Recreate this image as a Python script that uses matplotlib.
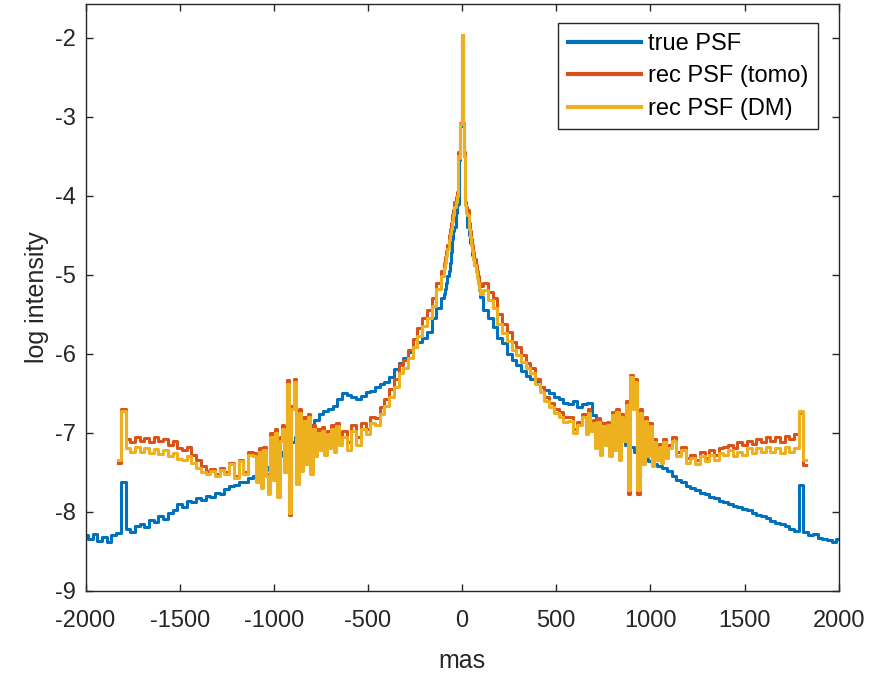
import numpy as np
import matplotlib
matplotlib.use('Agg')
from matplotlib import pyplot as plt

plt.rcParams['font.family'] = ['Liberation Sans', 'DejaVu Sans']
plt.rcParams['axes.unicode_minus'] = False

# x grids (mas): coarse wings, fine core and fine noisy bands around +-900 mas
x_core = np.arange(-100, 100.1, 6.25)
x_true = np.concatenate([np.arange(-2000, -124, 25), x_core, np.arange(125, 2001, 25)])
x_rec = np.concatenate([np.arange(-1825, -1124, 25), np.arange(-1100, -649, 12.5),
                        np.arange(-625, -124, 25), x_core,
                        np.arange(125, 626, 25), np.arange(650, 1101, 12.5),
                        np.arange(1125, 1826, 25)])

true_left = [-8.30, -8.35, -8.28, -8.37, -8.32, -8.38, -8.30, -8.27, -7.62, -8.22,
             -8.26, -8.18, -8.15, -8.19, -8.10, -8.13, -8.06, -8.09, -8.02, -7.98,
             -7.90, -7.94, -7.86, -7.88, -7.83, -7.85, -7.80, -7.82, -7.76, -7.77,
             -7.71, -7.68, -7.66, -7.62, -7.63, -7.58, -7.55, -7.52, -7.47, -7.43,
             -7.38, -7.30, -7.25, -7.18, -7.12, -7.06, -7.00, -6.95, -6.90, -6.84,
             -6.76, -6.72, -6.70, -6.66, -6.58, -6.50, -6.52, -6.55, -6.58, -6.53,
             -6.49, -6.47, -6.42, -6.38, -6.36, -6.30, -6.20, -6.12, -6.05, -5.98,
             -5.92, -5.85, -5.80, -5.73, -5.55, -5.42]
true_core = [-5.30, -5.25, -5.18, -5.10, -5.02, -4.95, -4.85, -4.72, -4.55, -4.45,
             -4.40, -4.22, -4.12, -4.10, -3.55, -3.12, -1.98, -3.12, -3.50, -4.10,
             -4.20, -4.40, -4.50, -4.60, -4.62, -4.75, -4.80, -4.88, -4.95, -5.00,
             -5.10, -5.20, -5.28]
true_right = [-5.45, -5.55, -5.66, -5.80, -5.86, -6.00, -6.08, -6.15, -6.22, -6.28,
              -6.32, -6.36, -6.42, -6.46, -6.50, -6.55, -6.58, -6.62, -6.64, -6.60,
              -6.68, -6.64, -6.62, -6.78, -6.86, -6.88, -6.94, -6.97, -7.04, -7.08,
              -7.15, -7.18, -7.24, -7.28, -7.33, -7.36, -7.40, -7.42, -7.45, -7.48,
              -7.55, -7.60, -7.63, -7.67, -7.70, -7.73, -7.76, -7.78, -7.82, -7.83,
              -7.86, -7.88, -7.90, -7.93, -7.94, -7.96, -7.98, -8.02, -8.04, -8.05,
              -8.08, -8.12, -8.14, -8.16, -8.18, -8.22, -8.24, -7.66, -8.26, -8.30,
              -8.28, -8.33, -8.34, -8.36, -8.38, -8.35]

tomo_left = [-7.38, -6.70, -7.08, -7.12, -7.05, -7.10, -7.07, -7.12, -7.06, -7.11,
             -7.08, -7.15, -7.10, -7.20, -7.22, -7.18, -7.28, -7.35, -7.42, -7.48,
             -7.46, -7.52, -7.45, -7.50, -7.38, -7.55, -7.35, -7.50, -7.25]
tomo_band_left = [-7.26, -7.60, -7.20, -7.68, -7.18, -7.52, -7.76, -7.00, -7.58, -6.96,
                  -7.80, -7.05, -6.90, -7.48, -6.33, -8.04, -6.66, -6.32, -7.62, -6.70,
                  -7.45, -6.80, -7.36, -6.76, -7.48, -6.90, -7.26, -6.96, -7.18, -6.93,
                  -7.24, -6.98, -7.16, -6.90, -7.20, -6.88, -7.10]
tomo_mid_left = [-6.98, -7.12, -6.90, -7.05, -6.88, -6.95, -6.80, -6.82, -6.68, -6.58,
                 -6.45, -6.32, -6.15, -6.08, -5.95, -5.82, -5.68, -5.55, -5.45, -5.30,
                 -5.10]
tomo_core = [-4.95, -4.85, -4.78, -4.70, -4.62, -4.50, -4.42, -4.35, -4.25, -4.18,
             -4.08, -4.02, -3.95, -3.45, -3.48, -3.08, -1.97, -3.08, -3.45, -4.08,
             -4.15, -4.18, -4.35, -4.45, -4.55, -4.62, -4.72, -4.80, -4.88, -4.95,
             -5.02, -5.10, -5.15]
tomo_mid_right = [-5.10, -5.22, -5.30, -5.50, -5.62, -5.72, -5.85, -5.92, -6.02, -6.12,
                  -6.18, -6.32, -6.42, -6.55, -6.62, -6.70, -6.74, -6.80, -6.80, -6.96,
                  -6.86]
tomo_band_right = [-6.76, -6.98, -6.70, -6.95, -6.84, -7.16, -6.82, -7.24, -6.88, -7.12,
                   -6.86, -7.26, -6.74, -7.18, -6.70, -7.30, -6.76, -7.06, -6.60, -7.78,
                   -6.27, -6.66, -6.32, -7.78, -6.70, -7.36, -6.80, -7.26, -6.88, -7.38,
                   -7.08, -7.30, -7.14, -7.34, -7.08, -7.28, -7.16]
tomo_right = [-7.05, -7.25, -7.18, -7.32, -7.28, -7.35, -7.25, -7.32, -7.22, -7.28,
              -7.20, -7.18, -7.15, -7.20, -7.12, -7.15, -7.10, -7.14, -7.08, -7.12,
              -7.05, -7.10, -7.06, -7.12, -7.04, -7.08, -7.02, -6.75, -7.41]

dm_left = [-7.35, -6.72, -7.20, -7.25, -7.18, -7.24, -7.20, -7.26, -7.21, -7.27,
           -7.22, -7.30, -7.26, -7.33, -7.35, -7.30, -7.38, -7.45, -7.50, -7.52,
           -7.48, -7.55, -7.47, -7.52, -7.40, -7.58, -7.36, -7.52, -7.28]
dm_band_left = [-7.30, -7.62, -7.25, -7.70, -7.22, -7.55, -7.78, -7.05, -7.60, -7.00,
                -7.82, -7.10, -6.95, -7.50, -6.38, -8.02, -6.70, -6.36, -7.65, -6.75,
                -7.48, -6.85, -7.40, -6.80, -7.52, -6.95, -7.30, -7.00, -7.22, -6.98,
                -7.28, -7.02, -7.20, -6.95, -7.25, -6.92, -7.15]
dm_mid_left = [-7.05, -7.22, -6.98, -7.15, -6.95, -7.02, -6.88, -6.90, -6.76, -6.66,
               -6.55, -6.42, -6.25, -6.18, -6.05, -5.92, -5.78, -5.65, -5.55, -5.40,
               -5.18]
dm_core = [-5.02, -4.92, -4.85, -4.76, -4.68, -4.56, -4.48, -4.42, -4.32, -4.24,
           -4.14, -4.08, -4.00, -3.50, -3.52, -3.10, -1.97, -3.10, -3.50, -4.12,
           -4.22, -4.25, -4.42, -4.52, -4.62, -4.70, -4.80, -4.88, -4.96, -5.04,
           -5.10, -5.18, -5.24]
dm_mid_right = [-5.20, -5.32, -5.42, -5.62, -5.74, -5.84, -5.95, -6.02, -6.10, -6.18,
                -6.25, -6.38, -6.48, -6.60, -6.68, -6.75, -6.80, -6.86, -6.85, -7.00,
                -6.90]
dm_band_right = [-6.80, -7.02, -6.75, -6.98, -6.88, -7.20, -6.86, -7.28, -6.92, -7.15,
                 -6.90, -7.30, -6.78, -7.22, -6.74, -7.34, -6.80, -7.10, -6.65, -7.73,
                 -6.30, -6.70, -6.36, -7.72, -6.75, -7.40, -6.85, -7.30, -6.92, -7.42,
                 -7.12, -7.35, -7.18, -7.38, -7.12, -7.32, -7.20]
dm_right = [-7.10, -7.30, -7.22, -7.38, -7.32, -7.40, -7.30, -7.36, -7.28, -7.34,
            -7.26, -7.28, -7.22, -7.30, -7.24, -7.28, -7.20, -7.26, -7.20, -7.25,
            -7.18, -7.24, -7.20, -7.26, -7.18, -7.24, -7.20, -6.72, -7.35]

true_psf = np.array(true_left + true_core + true_right)
rec_tomo = np.array(tomo_left + tomo_band_left + tomo_mid_left + tomo_core
                    + tomo_mid_right + tomo_band_right + tomo_right)
rec_dm = np.array(dm_left + dm_band_left + dm_mid_left + dm_core
                  + dm_mid_right + dm_band_right + dm_right)

labels = ['true PSF', 'rec PSF (tomo)', 'rec PSF (DM)']
colors = ['#0072BD', '#D95319', '#EDB120']

fig = plt.figure(figsize=(8.71, 6.75), dpi=100)
ax = fig.add_axes([0.0982, 0.1249, 0.8647, 0.8692])

ax.plot(x_true, true_psf, drawstyle='steps-mid', color=colors[0], lw=2.2, label=labels[0])
ax.plot(x_rec, rec_tomo, drawstyle='steps-mid', color=colors[1], lw=2.2, label=labels[1])
ax.plot(x_rec, rec_dm, drawstyle='steps-mid', color=colors[2], lw=2.2, label=labels[2])

ax.set_xlim(-2000, 2000)
ax.set_ylim(-9, -1.575)
ax.set_xticks(np.arange(-2000, 2001, 500))
ax.set_yticks(np.arange(-9, -1.9, 1))
ax.tick_params(direction='in', top=True, right=True, length=5, width=1,
               labelsize=17, colors='#262626')
ax.tick_params(axis='x', pad=14)
ax.tick_params(axis='y', pad=7)
for s in ax.spines.values():
    s.set_color('#262626')
    s.set_linewidth(1.0)

ax.set_xlabel('mas', fontsize=18, color='#262626', labelpad=12)
ax.set_ylabel('log intensity', fontsize=18, color='#262626')

leg = ax.legend(loc='upper right', bbox_to_anchor=(0.972, 0.967), borderaxespad=0,
                fontsize=17, handlelength=3.1, labelspacing=0.45, fancybox=False,
                framealpha=1, edgecolor='#262626', borderpad=0.4, handletextpad=0.3)
leg.get_frame().set_linewidth(1.0)
for line in leg.get_lines():
    line.set_linewidth(3)

fig.savefig('out.png', dpi=100)
